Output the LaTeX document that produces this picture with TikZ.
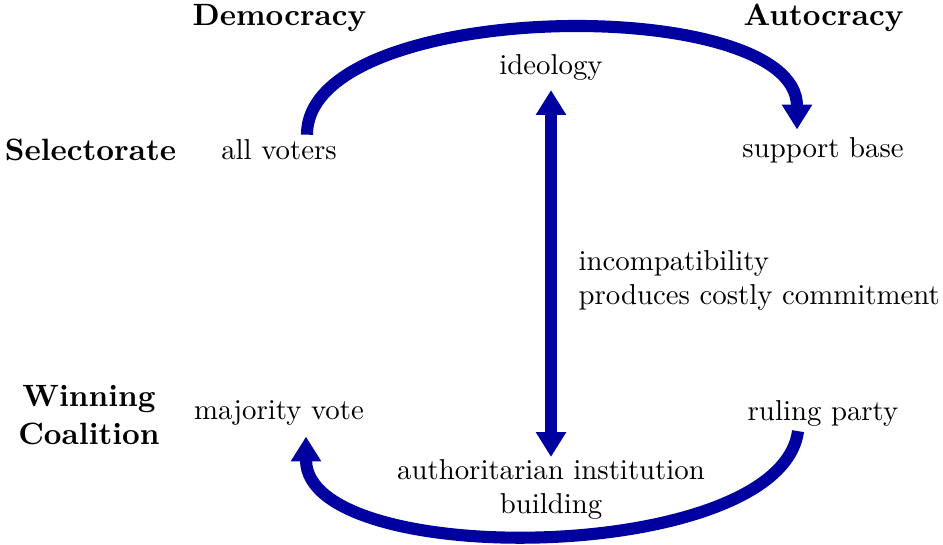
\documentclass[tikz,border=0pt]{standalone}
\usetikzlibrary{arrows.meta,calc}
\definecolor{flowblue}{RGB}{0,0,160}
\begin{document}
\begin{tikzpicture}[x=0.3472pt,y=-0.3472pt,
  lbl/.style={inner sep=3.33pt,font=\fontsize{10}{12}\selectfont},
  headlbl/.style={inner sep=3.33pt,font=\fontsize{10.7}{13.2}\selectfont\bfseries},
  flowtip/.tip={Triangle[length=8.6pt,width=10pt]},
  flow/.style={draw=flowblue,fill=none,line width=4.2pt,-flowtip}]
\useasboundingbox (0,0) rectangle (943,544);

% column and row headings
\node[headlbl] (dem) at (279.5,18) {Democracy};
\node[headlbl] (aut) at (823.5,18) {Autocracy};
\node[headlbl] (sel) at (90.5,150) {Selectorate};
\node[headlbl,align=center] (win) at (89,415) {Winning\\Coalition};

% cells
\node[lbl] (voters) at (279,150) {all voters};
\node[lbl] (base) at (823,150) {support base};
\node[lbl] (major) at (279,413) {majority vote};
\node[lbl] (party) at (823,413) {ruling party};

% mechanisms
\node[lbl] (ideo) at (551,67) {ideology};
\node[lbl,align=center] (inst) at (551,489.3) {authoritarian institution\\building};
\node[lbl,align=left,anchor=west] (incomp) at (568.4,280.5) {incompatibility\\produces costly commitment};

% selectorate shift: all voters -> support base
\draw[flow] ($(voters.north)+(28,5)$)
  .. controls +(0,-137) and +(0,-137) .. ($(base.north)+(-26,2.4)$);

% winning coalition shift: ruling party -> majority vote
\draw[flow] ($(party.south)+(-25,-5)$)
  .. controls +(-18,134) and +(0,134) .. ($(major.south)+(27,1)$);

% ideology <-> institution building
\draw[flow,flowtip-flowtip] (ideo.south) -- ($(inst.north)+(0,8)$);
\end{tikzpicture}
\end{document}
